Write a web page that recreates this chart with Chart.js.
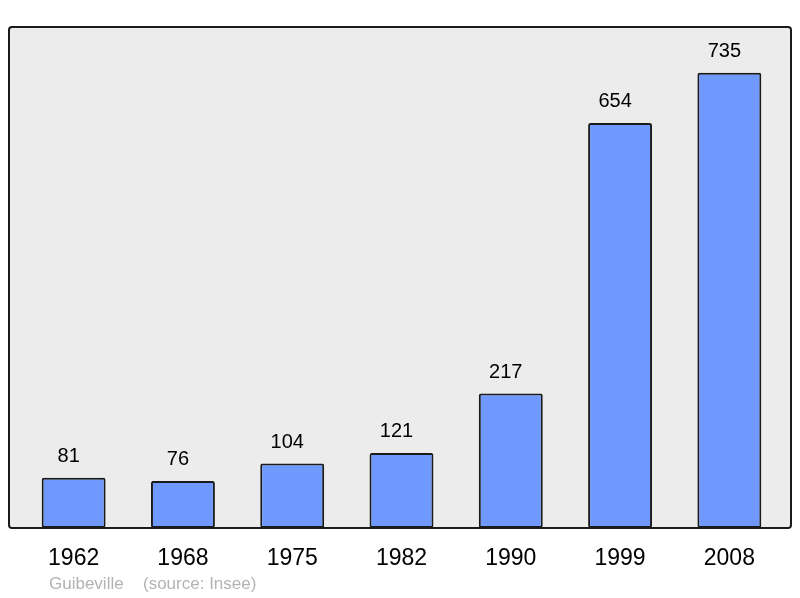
<!DOCTYPE html>
<html>
<head>
<meta charset="utf-8">
<script src="https://cdn.jsdelivr.net/npm/chart.js@4/dist/chart.umd.min.js"></script>
<style>
  html, body { margin: 0; padding: 0; background: #fff; }
  #wrap { width: 800px; height: 598px; }
</style>
</head>
<body>
<div id="wrap"><canvas id="myChart" width="800" height="598"></canvas></div>
<script>
const years = ["1962", "1968", "1975", "1982", "1990", "1999", "2008"];
const population = [81, 76, 104, 121, 217, 654, 735];
const townName = "Guibeville";
const sourceText = "(source: Insee)";

// grey panel with black frame behind the bars
const panel = {
    id: "panel",
    beforeDatasetsDraw(chart) {
        const { ctx, chartArea: { top, bottom } } = chart;
        ctx.save();
        ctx.beginPath();
        ctx.roundRect(9, top, 782, bottom - top, 3);
        ctx.fillStyle = "#ececec";
        ctx.fill();
        ctx.lineWidth = 2;
        ctx.strokeStyle = "#1a1a1a";
        ctx.stroke();
        ctx.restore();
    }
};

// numbers over the bars + footer text
const labels = {
    id: "labels",
    afterDatasetsDraw(chart) {
        const { ctx } = chart;
        const meta = chart.getDatasetMeta(0);
        ctx.save();
        ctx.font = "20px 'Liberation Sans', Arial, sans-serif";
        ctx.fillStyle = "#000";
        ctx.textAlign = "center";
        ctx.textBaseline = "alphabetic";
        meta.data.forEach((bar, i) => {
            ctx.fillText(population[i], bar.x - 5, bar.y - 16);
        });
        ctx.font = "17px 'Liberation Sans', Arial, sans-serif";
        ctx.fillStyle = "#b3b3b3";
        ctx.textAlign = "left";
        ctx.fillText(townName, 49, 589);
        ctx.fillText(sourceText, 143, 589);
        ctx.restore();
    }
};

new Chart(document.getElementById("myChart"), {
    type: "bar",
    data: {
        labels: years,
        datasets: [{
            data: population,
            backgroundColor: "#7099ff",
            borderColor: "#1a1a1a",
            borderWidth: 2,
            borderRadius: 2,
            borderSkipped: false,
            categoryPercentage: 1,
            barPercentage: 0.585
        }]
    },
    options: {
        responsive: false,
        animation: false,
        events: [],
        layout: { padding: { left: 19, right: 16, top: 27, bottom: 0 } },
        plugins: { legend: { display: false }, tooltip: { enabled: false } },
        scales: {
            y: { display: false, min: 0, max: 809 },
            x: {
                grid: { display: false, drawTicks: false },
                border: { display: false },
                ticks: {
                    color: "#000",
                    padding: 17,
                    font: { family: "'Liberation Sans', Arial, sans-serif", size: 23 }
                },
                afterFit: (scale) => { scale.height = 70; }
            }
        }
    },
    plugins: [panel, labels]
});
</script>
</body>
</html>
